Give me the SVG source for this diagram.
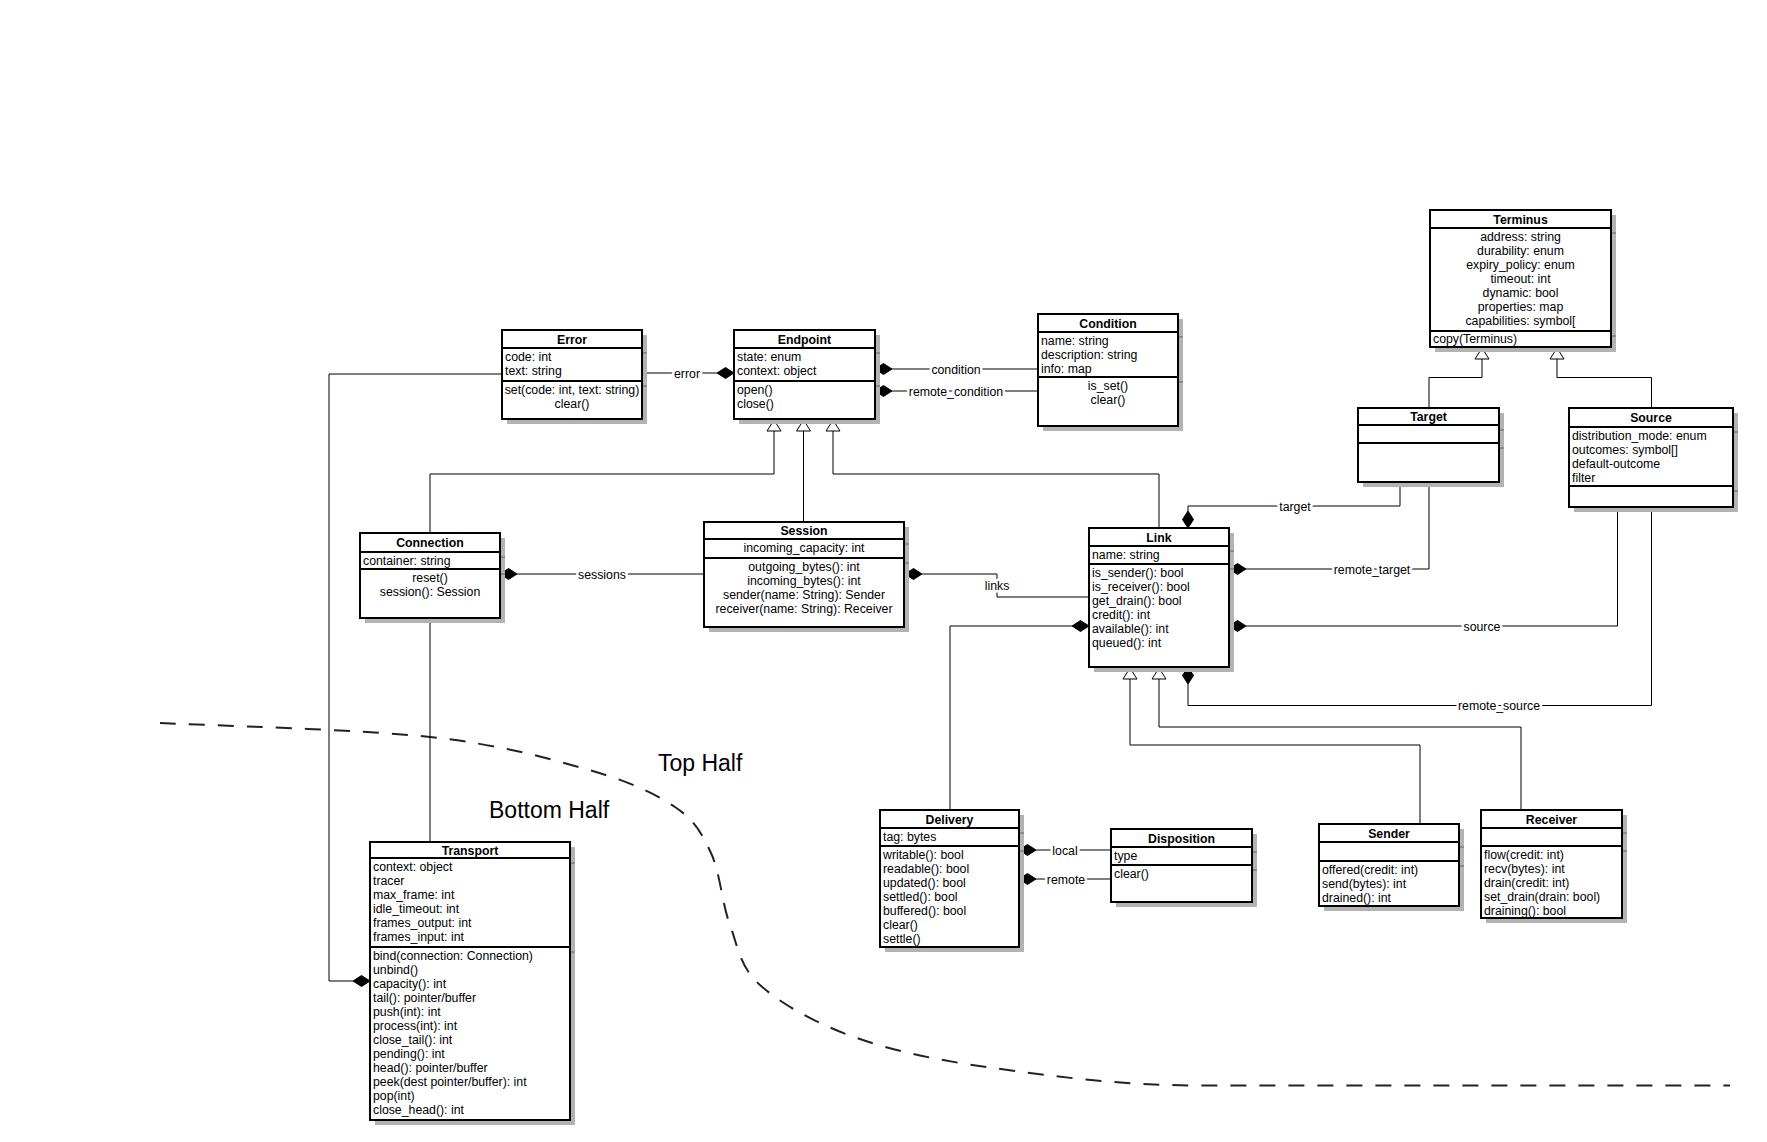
<svg xmlns="http://www.w3.org/2000/svg" width="1767" height="1142" viewBox="0 0 1767 1142">
<style>
.bg{fill:#fff}
.sh{fill:#b3b3b3}
.shl{stroke:#8a8a8a;stroke-width:2}
.box{fill:#fff;stroke:#000;stroke-width:2}
.sep{stroke:#000;stroke-width:2}
.t{font-family:'Liberation Sans',Arial,sans-serif;font-size:12.3px;font-weight:bold;text-anchor:middle;fill:#000}
.m{font-family:'Liberation Sans',Arial,sans-serif;font-size:12.3px;fill:#000}
.c{text-anchor:middle}
.e{fill:none;stroke:#000;stroke-width:1}
.d{fill:#000;stroke:#000;stroke-width:1}
.g{fill:#fff;stroke:#000;stroke-width:1}
.l{font-family:'Liberation Sans',Arial,sans-serif;font-size:12.3px;text-anchor:middle;fill:#000;stroke:#fff;stroke-width:5;stroke-linejoin:round;paint-order:stroke}
.big{font-family:'Liberation Sans',Arial,sans-serif;font-size:23px;fill:#000}
.dash{fill:none;stroke:#222;stroke-width:2;stroke-dasharray:16 13}
</style>
<rect class="bg" x="0" y="0" width="1767" height="1142"/>

<g id="divider">
<path class="dash" d="M160,723 C205,725.3 358.5,729.2 430,737 C501.5,744.8 548.2,758.3 589,770 C629.8,781.7 654.7,793.2 675,807 C695.3,820.8 701.8,833.3 711,853 C720.2,872.7 721.8,903 730,925 C738.2,947 739.3,966.3 760,985 C780.7,1003.7 815.2,1023.2 854,1037 C892.8,1050.8 935.2,1060 993,1068 C1050.8,1076 1120,1085.5 1201,1085.5 L1730,1085.5"/>
<text class="big" x="658" y="771">Top Half</text>
<text class="big" x="489" y="818">Bottom Half</text>
</g>

<g id="connectors">
<!-- error -->
<path class="e" d="M642,373 H717"/>
<polygon class="d" points="734,373 725.5,367.5 717,373 725.5,378.5"/>
<text class="l" x="687" y="377.5">error</text>
<!-- condition -->
<path class="e" d="M892,369 H1038"/>
<polygon class="d" points="875,369 883.5,363.5 892,369 883.5,374.5"/>
<text class="l" x="956" y="373.5">condition</text>
<!-- remote_condition -->
<path class="e" d="M892,391 H1038"/>
<polygon class="d" points="875,391 883.5,385.5 892,391 883.5,396.5"/>
<text class="l" x="956" y="395.5">remote_condition</text>
<!-- sessions -->
<path class="e" d="M517,574 H704"/>
<polygon class="d" points="500,574 508.5,568.5 517,574 508.5,579.5"/>
<text class="l" x="602" y="578.5">sessions</text>
<!-- links -->
<path class="e" d="M922,574 H997 V597 H1089"/>
<polygon class="d" points="905,574 913.5,568.5 922,574 913.5,579.5"/>
<text class="l" x="997" y="590">links</text>
<!-- generalizations to Endpoint -->
<path class="e" d="M430,533 V474 H774 V431"/>
<path class="e" d="M803.5,522 V431"/>
<path class="e" d="M1159,528 V474 H833 V431"/>
<polygon class="g" points="774,420 781,431 767,431"/>
<polygon class="g" points="803.5,420 810.5,431 796.5,431"/>
<polygon class="g" points="833,420 840,431 826,431"/>
<!-- Connection to Transport -->
<path class="e" d="M430,618 V842"/>
<!-- Error to Transport -->
<path class="e" d="M502,374 H329 V981 H353"/>
<polygon class="d" points="370,981 361.5,975.5 353,981 361.5,986.5"/>
<!-- target -->
<path class="e" d="M1188,511 V506 H1400 V482"/>
<polygon class="d" points="1188,528 1193.5,519.5 1188,511 1182.5,519.5"/>
<text class="l" x="1295" y="510.5">target</text>
<!-- remote_target -->
<path class="e" d="M1246,569 H1429 V482"/>
<polygon class="d" points="1229,569 1237.5,563.5 1246,569 1237.5,574.5"/>
<text class="l" x="1372" y="573.5">remote_target</text>
<!-- source -->
<path class="e" d="M1246,626 H1617.5 V507"/>
<polygon class="d" points="1229,626 1237.5,620.5 1246,626 1237.5,631.5"/>
<text class="l" x="1482" y="630.5">source</text>
<!-- remote_source -->
<path class="e" d="M1188,684 V705.5 H1651.5 V507"/>
<polygon class="d" points="1188,667 1193.5,675.5 1188,684 1182.5,675.5"/>
<text class="l" x="1499" y="710">remote_source</text>
<!-- Delivery to Link -->
<path class="e" d="M1072,626 H950 V810"/>
<polygon class="d" points="1089,626 1080.5,620.5 1072,626 1080.5,631.5"/>
<!-- Sender / Receiver to Link -->
<path class="e" d="M1130,679 V745 H1420 V824"/>
<path class="e" d="M1159,679 V727 H1521 V810"/>
<polygon class="g" points="1130,668 1137,679 1123,679"/>
<polygon class="g" points="1159,668 1166,679 1152,679"/>
<!-- Target / Source to Terminus -->
<path class="e" d="M1429,408 V377.5 H1482 V359"/>
<path class="e" d="M1651.5,408 V377.5 H1557 V359"/>
<polygon class="g" points="1482,348 1489,359 1475,359"/>
<polygon class="g" points="1557,348 1564,359 1550,359"/>
<!-- local / remote -->
<path class="e" d="M1036,850 H1111"/>
<polygon class="d" points="1019,850 1027.5,844.5 1036,850 1027.5,855.5"/>
<text class="l" x="1065" y="854.5">local</text>
<path class="e" d="M1036,879 H1111"/>
<polygon class="d" points="1019,879 1027.5,873.5 1036,879 1027.5,884.5"/>
<text class="l" x="1066" y="883.5">remote</text>
</g>

<g id="Error">
<rect class="sh" x="507" y="335" width="140" height="89"/>
<line class="shl" x1="643" y1="353" x2="647" y2="353"/><line class="shl" x1="643" y1="386" x2="647" y2="386"/>
<rect class="box" x="502" y="330" width="140" height="89"/>
<line class="sep" x1="502" y1="348" x2="642" y2="348"/>
<line class="sep" x1="502" y1="381" x2="642" y2="381"/>
<text class="t" x="572" y="343.5">Error</text>
<text class="m" x="505" y="360.5">code: int</text>
<text class="m" x="505" y="374.5">text: string</text>
<text class="m c" x="572" y="393.5">set(code: int, text: string)</text>
<text class="m c" x="572" y="407.5">clear()</text>
</g>

<g id="Endpoint">
<rect class="sh" x="739" y="335" width="141" height="89"/>
<line class="shl" x1="876" y1="353" x2="880" y2="353"/><line class="shl" x1="876" y1="386" x2="880" y2="386"/>
<rect class="box" x="734" y="330" width="141" height="89"/>
<line class="sep" x1="734" y1="348" x2="875" y2="348"/>
<line class="sep" x1="734" y1="381" x2="875" y2="381"/>
<text class="t" x="804.5" y="343.5">Endpoint</text>
<text class="m" x="737" y="360.5">state: enum</text>
<text class="m" x="737" y="374.5">context: object</text>
<text class="m" x="737" y="393.5">open()</text>
<text class="m" x="737" y="407.5">close()</text>
</g>

<g id="Condition">
<rect class="sh" x="1043" y="319" width="140" height="112"/>
<line class="shl" x1="1179" y1="337" x2="1183" y2="337"/><line class="shl" x1="1179" y1="382" x2="1183" y2="382"/>
<rect class="box" x="1038" y="314" width="140" height="112"/>
<line class="sep" x1="1038" y1="332" x2="1178" y2="332"/>
<line class="sep" x1="1038" y1="377" x2="1178" y2="377"/>
<text class="t" x="1108" y="327.5">Condition</text>
<text class="m" x="1041" y="344.5">name: string</text>
<text class="m" x="1041" y="358.5">description: string</text>
<text class="m" x="1041" y="372.5">info: map</text>
<text class="m c" x="1108" y="389.5">is_set()</text>
<text class="m c" x="1108" y="403.5">clear()</text>
</g>

<g id="Terminus">
<rect class="sh" x="1435" y="215" width="181" height="137"/>
<line class="shl" x1="1612" y1="233" x2="1616" y2="233"/><line class="shl" x1="1612" y1="336" x2="1616" y2="336"/>
<rect class="box" x="1430" y="210" width="181" height="137"/>
<line class="sep" x1="1430" y1="228" x2="1611" y2="228"/>
<line class="sep" x1="1430" y1="331" x2="1611" y2="331"/>
<text class="t" x="1520.5" y="223.5">Terminus</text>
<text class="m c" x="1520.5" y="240.5">address: string</text>
<text class="m c" x="1520.5" y="254.5">durability: enum</text>
<text class="m c" x="1520.5" y="268.5">expiry_policy: enum</text>
<text class="m c" x="1520.5" y="282.5">timeout: int</text>
<text class="m c" x="1520.5" y="296.5">dynamic: bool</text>
<text class="m c" x="1520.5" y="310.5">properties: map</text>
<text class="m c" x="1520.5" y="324.5">capabilities: symbol[</text>
<text class="m" x="1433" y="343">copy(Terminus)</text>
</g>

<g id="Target">
<rect class="sh" x="1363" y="413" width="141" height="74"/>
<line class="shl" x1="1500" y1="430" x2="1504" y2="430"/><line class="shl" x1="1500" y1="448" x2="1504" y2="448"/>
<rect class="box" x="1358" y="408" width="141" height="74"/>
<line class="sep" x1="1358" y1="425" x2="1499" y2="425"/>
<line class="sep" x1="1358" y1="443" x2="1499" y2="443"/>
<text class="t" x="1428.5" y="421">Target</text>
</g>

<g id="Source">
<rect class="sh" x="1574" y="413" width="164" height="99"/>
<line class="shl" x1="1734" y1="432" x2="1738" y2="432"/><line class="shl" x1="1734" y1="491" x2="1738" y2="491"/>
<rect class="box" x="1569" y="408" width="164" height="99"/>
<line class="sep" x1="1569" y1="427" x2="1733" y2="427"/>
<line class="sep" x1="1569" y1="486" x2="1733" y2="486"/>
<text class="t" x="1651" y="422">Source</text>
<text class="m" x="1572" y="439.5">distribution_mode: enum</text>
<text class="m" x="1572" y="453.5">outcomes: symbol[]</text>
<text class="m" x="1572" y="467.5">default-outcome</text>
<text class="m" x="1572" y="481.5">filter</text>
</g>

<g id="Connection">
<rect class="sh" x="365" y="538" width="140" height="85"/>
<line class="shl" x1="501" y1="557" x2="505" y2="557"/><line class="shl" x1="501" y1="574" x2="505" y2="574"/>
<rect class="box" x="360" y="533" width="140" height="85"/>
<line class="sep" x1="360" y1="552" x2="500" y2="552"/>
<line class="sep" x1="360" y1="569" x2="500" y2="569"/>
<text class="t" x="430" y="547">Connection</text>
<text class="m" x="363" y="564.5">container: string</text>
<text class="m c" x="430" y="581.5">reset()</text>
<text class="m c" x="430" y="595.5">session(): Session</text>
</g>

<g id="Session">
<rect class="sh" x="709" y="527" width="200" height="105"/>
<line class="shl" x1="905" y1="544" x2="909" y2="544"/><line class="shl" x1="905" y1="563" x2="909" y2="563"/>
<rect class="box" x="704" y="522" width="200" height="105"/>
<line class="sep" x1="704" y1="539" x2="904" y2="539"/>
<line class="sep" x1="704" y1="558" x2="904" y2="558"/>
<text class="t" x="804" y="535">Session</text>
<text class="m c" x="804" y="551.5">incoming_capacity: int</text>
<text class="m c" x="804" y="570.5">outgoing_bytes(): int</text>
<text class="m c" x="804" y="584.5">incoming_bytes(): int</text>
<text class="m c" x="804" y="598.5">sender(name: String): Sender</text>
<text class="m c" x="804" y="612.5">receiver(name: String): Receiver</text>
</g>

<g id="Link">
<rect class="sh" x="1094" y="533" width="140" height="139"/>
<line class="shl" x1="1230" y1="551" x2="1234" y2="551"/><line class="shl" x1="1230" y1="569" x2="1234" y2="569"/>
<rect class="box" x="1089" y="528" width="140" height="139"/>
<line class="sep" x1="1089" y1="546" x2="1229" y2="546"/>
<line class="sep" x1="1089" y1="564" x2="1229" y2="564"/>
<text class="t" x="1159" y="541.5">Link</text>
<text class="m" x="1092" y="558.5">name: string</text>
<text class="m" x="1092" y="576.5">is_sender(): bool</text>
<text class="m" x="1092" y="590.5">is_receiver(): bool</text>
<text class="m" x="1092" y="604.5">get_drain(): bool</text>
<text class="m" x="1092" y="618.5">credit(): int</text>
<text class="m" x="1092" y="632.5">available(): int</text>
<text class="m" x="1092" y="646.5">queued(): int</text>
</g>

<g id="Delivery">
<rect class="sh" x="885" y="815" width="139" height="137"/>
<line class="shl" x1="1020" y1="833" x2="1024" y2="833"/><line class="shl" x1="1020" y1="851" x2="1024" y2="851"/>
<rect class="box" x="880" y="810" width="139" height="137"/>
<line class="sep" x1="880" y1="828" x2="1019" y2="828"/>
<line class="sep" x1="880" y1="846" x2="1019" y2="846"/>
<text class="t" x="949.5" y="823.5">Delivery</text>
<text class="m" x="883" y="840.5">tag: bytes</text>
<text class="m" x="883" y="858.5">writable(): bool</text>
<text class="m" x="883" y="872.5">readable(): bool</text>
<text class="m" x="883" y="886.5">updated(): bool</text>
<text class="m" x="883" y="900.5">settled(): bool</text>
<text class="m" x="883" y="914.5">buffered(): bool</text>
<text class="m" x="883" y="928.5">clear()</text>
<text class="m" x="883" y="942.5">settle()</text>
</g>

<g id="Disposition">
<rect class="sh" x="1116" y="834" width="141" height="73"/>
<line class="shl" x1="1253" y1="852" x2="1257" y2="852"/><line class="shl" x1="1253" y1="870" x2="1257" y2="870"/>
<rect class="box" x="1111" y="829" width="141" height="73"/>
<line class="sep" x1="1111" y1="847" x2="1252" y2="847"/>
<line class="sep" x1="1111" y1="865" x2="1252" y2="865"/>
<text class="t" x="1181.5" y="842.5">Disposition</text>
<text class="m" x="1114" y="859.5">type</text>
<text class="m" x="1114" y="877.5">clear()</text>
</g>

<g id="Sender">
<rect class="sh" x="1324" y="829" width="140" height="82"/>
<line class="shl" x1="1460" y1="847" x2="1464" y2="847"/><line class="shl" x1="1460" y1="866" x2="1464" y2="866"/>
<rect class="box" x="1319" y="824" width="140" height="82"/>
<line class="sep" x1="1319" y1="842" x2="1459" y2="842"/>
<line class="sep" x1="1319" y1="861" x2="1459" y2="861"/>
<text class="t" x="1389" y="837.5">Sender</text>
<text class="m" x="1322" y="873.5">offered(credit: int)</text>
<text class="m" x="1322" y="887.5">send(bytes): int</text>
<text class="m" x="1322" y="901.5">drained(): int</text>
</g>

<g id="Receiver">
<rect class="sh" x="1486" y="815" width="141" height="108"/>
<line class="shl" x1="1623" y1="833" x2="1627" y2="833"/><line class="shl" x1="1623" y1="851" x2="1627" y2="851"/>
<rect class="box" x="1481" y="810" width="141" height="108"/>
<line class="sep" x1="1481" y1="828" x2="1622" y2="828"/>
<line class="sep" x1="1481" y1="846" x2="1622" y2="846"/>
<text class="t" x="1551.5" y="823.5">Receiver</text>
<text class="m" x="1484" y="858.5">flow(credit: int)</text>
<text class="m" x="1484" y="872.5">recv(bytes): int</text>
<text class="m" x="1484" y="886.5">drain(credit: int)</text>
<text class="m" x="1484" y="900.5">set_drain(drain: bool)</text>
<text class="m" x="1484" y="914.5">draining(): bool</text>
</g>

<g id="Transport">
<rect class="sh" x="375" y="847" width="200" height="278"/>
<line class="shl" x1="571" y1="863" x2="575" y2="863"/><line class="shl" x1="571" y1="952" x2="575" y2="952"/>
<rect class="box" x="370" y="842" width="200" height="278"/>
<line class="sep" x1="370" y1="858" x2="570" y2="858"/>
<line class="sep" x1="370" y1="947" x2="570" y2="947"/>
<text class="t" x="470" y="854.5">Transport</text>
<text class="m" x="373" y="870.5">context: object</text>
<text class="m" x="373" y="884.5">tracer</text>
<text class="m" x="373" y="898.5">max_frame: int</text>
<text class="m" x="373" y="912.5">idle_timeout: int</text>
<text class="m" x="373" y="926.5">frames_output: int</text>
<text class="m" x="373" y="940.5">frames_input: int</text>
<text class="m" x="373" y="959.5">bind(connection: Connection)</text>
<text class="m" x="373" y="973.5">unbind()</text>
<text class="m" x="373" y="987.5">capacity(): int</text>
<text class="m" x="373" y="1001.5">tail(): pointer/buffer</text>
<text class="m" x="373" y="1015.5">push(int): int</text>
<text class="m" x="373" y="1029.5">process(int): int</text>
<text class="m" x="373" y="1043.5">close_tail(): int</text>
<text class="m" x="373" y="1057.5">pending(): int</text>
<text class="m" x="373" y="1071.5">head(): pointer/buffer</text>
<text class="m" x="373" y="1085.5">peek(dest pointer/buffer): int</text>
<text class="m" x="373" y="1099.5">pop(int)</text>
<text class="m" x="373" y="1113.5">close_head(): int</text>
</g>
</svg>
